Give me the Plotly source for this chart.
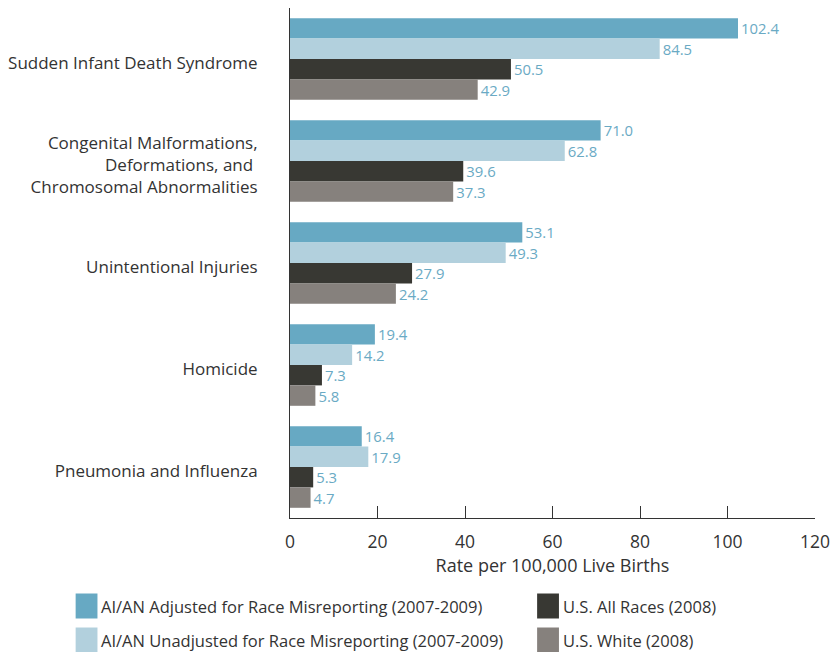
import plotly.graph_objects as go

categories = [
    "Sudden Infant Death Syndrome",
    "Congenital Malformations,<br>Deformations, and <br>Chromosomal Abnormalities",
    "Unintentional Injuries",
    "Homicide",
    "Pneumonia and Influenza",
]
series_names = [
    "AI/AN Adjusted for Race Misreporting (2007-2009)",
    "AI/AN Unadjusted for Race Misreporting (2007-2009)",
    "U.S. All Races (2008)",
    "U.S. White (2008)",
]
adjusted = [102.4, 71.0, 53.1, 19.4, 16.4]
unadjusted = [84.5, 62.8, 49.3, 14.2, 17.9]
all_races = [50.5, 39.6, 27.9, 7.3, 5.3]
white = [42.9, 37.3, 24.2, 5.8, 4.7]
x_ticks = [0, 20, 40, 60, 80, 100, 120]

colors = ["#67A9C3", "#B2D0DD", "#383833", "#86817D"]
label_color = "#6AAAC4"
text_color = "#333333"
font_family = "Open Sans, Noto Sans, sans-serif"

W, H = 838, 652
ML, MR, MT, MB = 288, 21, 8, 134
PW, PH = W - ML - MR, H - MT - MB

fig = go.Figure()
for name, vals, col in zip(series_names, [adjusted, unadjusted, all_races, white], colors):
    fig.add_trace(go.Bar(
        y=categories, x=vals, orientation="h", name=name,
        marker=dict(color=col, line=dict(width=0)),
        text=[f"{v:.1f}" for v in vals], textposition="outside",
        textfont=dict(color=label_color, size=17.5, family=font_family),
        cliponaxis=False, showlegend=False, hoverinfo="skip",
    ))

fig.update_layout(
    width=W, height=H,
    margin=dict(l=ML, r=MR, t=MT, b=MB),
    barmode="group", bargap=0.2, bargroupgap=0,
    plot_bgcolor="white", paper_bgcolor="white",
    font=dict(family=font_family, color=text_color, size=16),
    xaxis=dict(
        range=[0, 120], tickvals=x_ticks, showgrid=False, zeroline=False,
        showline=True, linecolor=text_color, linewidth=1,
        ticks="inside", ticklen=12, tickcolor=text_color,
        ticklabelstandoff=8,
        tickfont=dict(size=17.5, color=text_color),
        title=dict(text="Rate per 100,000 Live Births", font=dict(size=18, color=text_color), standoff=2),
    ),
    yaxis=dict(
        autorange="reversed", showgrid=False, zeroline=False,
        showline=True, linecolor=text_color, linewidth=1,
        ticks="", ticklabelstandoff=28, ticklabelshift=-4,
        tickfont=dict(size=17, color=text_color),
    ),
)

# custom two-column legend (page pixel coords, converted to paper)
legend_pos = [(0, 0), (0, 1), (1, 0), (1, 1)]
col_x = [72, 537]
row_y = [606, 640]

def px_x(x):
    return (x - ML) / PW

def px_y(y):
    return (H - MB - y) / PH

for (c, r), name, col in zip(legend_pos, series_names, colors):
    x0 = col_x[c]
    yc = row_y[r]
    fig.add_shape(type="rect", xref="paper", yref="paper",
                  x0=px_x(x0), x1=px_x(x0 + 22),
                  y0=px_y(yc + 12.5), y1=px_y(yc - 12.5),
                  fillcolor=col, line=dict(width=0))
    fig.add_annotation(xref="paper", yref="paper",
                       x=px_x(x0 + 24), y=px_y(yc),
                       text=name, showarrow=False, xanchor="left", yanchor="middle",
                       font=dict(size=16.5, color=text_color))

fig.write_html(
    "out.html",
    config={"displayModeBar": False, "staticPlot": True},
    post_script="document.body.style.margin='0';document.body.style.overflow='hidden';",
)
